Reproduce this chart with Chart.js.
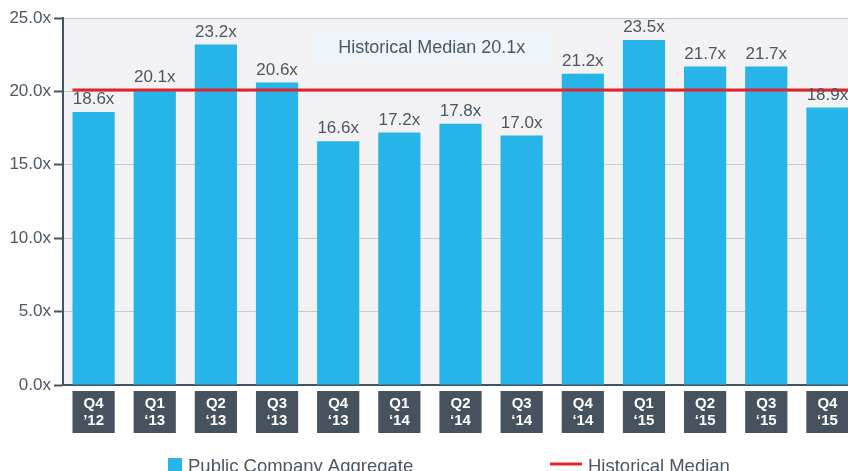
<!DOCTYPE html>
<html>
<head>
<meta charset="utf-8">
<script src="https://cdn.jsdelivr.net/npm/chart.js@4.4.1/dist/chart.umd.min.js"></script>
<style>
  html, body { margin: 0; padding: 0; background: #ffffff; overflow: hidden; }
  #wrap { width: 858px; height: 471px; }
</style>
</head>
<body>
<div id="wrap"><canvas id="grafico" width="858" height="471"></canvas></div>
<script>
// datos del grafico
const trimestres = ['Q4', 'Q1', 'Q2', 'Q3', 'Q4', 'Q1', 'Q2', 'Q3', 'Q4', 'Q1', 'Q2', 'Q3', 'Q4'];
const anios = ['’12', '‘13', '‘13', '‘13', '‘13', '‘14', '‘14', '‘14', '‘14', '‘15', '‘15', '‘15', '‘15'];
const multiplos = [18.6, 20.1, 23.2, 20.6, 16.6, 17.2, 17.8, 17.0, 21.2, 23.5, 21.7, 21.7, 18.9];
const medianaHistorica = 20.1;
const ticksY = [0, 5, 10, 15, 20, 25];

const AZUL = '#27b4e8';
const ROJO = '#e3232b';
const OSCURO = '#46535e';
const TEXTO = '#4b5762';
const FUENTE = '"Liberation Sans", Arial, sans-serif';

const etiquetas = trimestres.map((t, i) => [t, anios[i]]);

const pluginDecorado = {
    id: 'decorado',
    beforeDraw(chart) {
        const { ctx, chartArea } = chart;
        ctx.save();
        ctx.fillStyle = '#f2f2f5';
        ctx.fillRect(chartArea.left, chartArea.top, chartArea.right - chartArea.left, chartArea.bottom - chartArea.top);
        ctx.restore();
    },
    afterDatasetsDraw(chart) {
        const { ctx, chartArea, scales } = chart;
        const barras = chart.getDatasetMeta(0).data;
        ctx.save();

        // linea de mediana
        const yMed = scales.y.getPixelForValue(medianaHistorica);
        ctx.strokeStyle = ROJO;
        ctx.lineWidth = 3;
        ctx.beginPath();
        ctx.moveTo(barras[0].x - barras[0].width / 2, yMed);
        ctx.lineTo(chartArea.right, yMed);
        ctx.stroke();

        // valores sobre las barras
        ctx.fillStyle = TEXTO;
        ctx.font = '17px ' + FUENTE;
        ctx.textAlign = 'center';
        ctx.textBaseline = 'bottom';
        barras.forEach((b, i) => {
            ctx.fillText(multiplos[i].toFixed(1) + 'x', b.x, b.y - 4);
        });

        // recuadro de la mediana
        const cx = scales.x.getPixelForValue(5.53);
        const cy = scales.y.getPixelForValue(23);
        ctx.fillStyle = '#edf5fb';
        ctx.fillRect(cx - 120, cy - 15, 240, 30);
        ctx.fillStyle = TEXTO;
        ctx.font = '18px ' + FUENTE;
        ctx.textBaseline = 'middle';
        ctx.fillText('Historical Median ' + medianaHistorica.toFixed(1) + 'x', cx, cy + 1);
        ctx.restore();
    },
    afterDraw(chart) {
        const { ctx, chartArea } = chart;
        const barras = chart.getDatasetMeta(0).data;
        ctx.save();

        // cajas de categorias
        const top = chartArea.bottom + 6;
        barras.forEach((b, i) => {
            const x0 = b.x - b.width / 2;
            ctx.fillStyle = OSCURO;
            ctx.fillRect(x0, top, b.width, 42);
            ctx.fillStyle = '#ffffff';
            ctx.font = 'bold 15px ' + FUENTE;
            ctx.textAlign = 'center';
            ctx.textBaseline = 'middle';
            ctx.fillText(trimestres[i], b.x, top + 13);
            ctx.fillText(anios[i], b.x, top + 30);
        });

        // leyenda
        const yLey = 464;
        ctx.fillStyle = AZUL;
        ctx.fillRect(168, 458, 14, 14);
        ctx.fillStyle = TEXTO;
        ctx.font = '18.5px ' + FUENTE;
        ctx.textAlign = 'left';
        ctx.textBaseline = 'alphabetic';
        ctx.fillText(chart.data.datasets[0].label, 188, 472);
        ctx.strokeStyle = ROJO;
        ctx.lineWidth = 3;
        ctx.beginPath();
        ctx.moveTo(550, yLey);
        ctx.lineTo(582, yLey);
        ctx.stroke();
        ctx.fillText('Historical Median', 588, 472);
        ctx.restore();
    }
};

new Chart(document.getElementById('grafico'), {
    type: 'bar',
    data: {
        labels: etiquetas,
        datasets: [{
            label: 'Public Company Aggregate',
            data: multiplos,
            backgroundColor: AZUL,
            barPercentage: 0.69,
            categoryPercentage: 1
        }]
    },
    options: {
        responsive: false,
        animation: false,
        devicePixelRatio: 1,
        layout: { padding: { top: 18, left: 0, right: 0, bottom: 0 } },
        plugins: {
            legend: { display: false },
            tooltip: { enabled: false }
        },
        scales: {
            x: {
                grid: { display: false },
                ticks: { display: false },
                border: { color: OSCURO, width: 2 },
                afterFit: s => { s.height = 86; }
            },
            y: {
                min: 0,
                max: 25,
                afterBuildTicks: s => { s.ticks = ticksY.map(v => ({ value: v })); },
                ticks: {
                    callback: v => v.toFixed(1) + 'x',
                    color: TEXTO,
                    font: { size: 17, family: FUENTE },
                    padding: 3
                },
                grid: {
                    color: '#c9c9ce',
                    lineWidth: 1,
                    tickColor: OSCURO,
                    tickLength: 9,
                    tickWidth: 2
                },
                border: { color: OSCURO, width: 2 },
                afterFit: s => { s.width = 63; }
            }
        }
    },
    plugins: [pluginDecorado]
});
</script>
</body>
</html>
